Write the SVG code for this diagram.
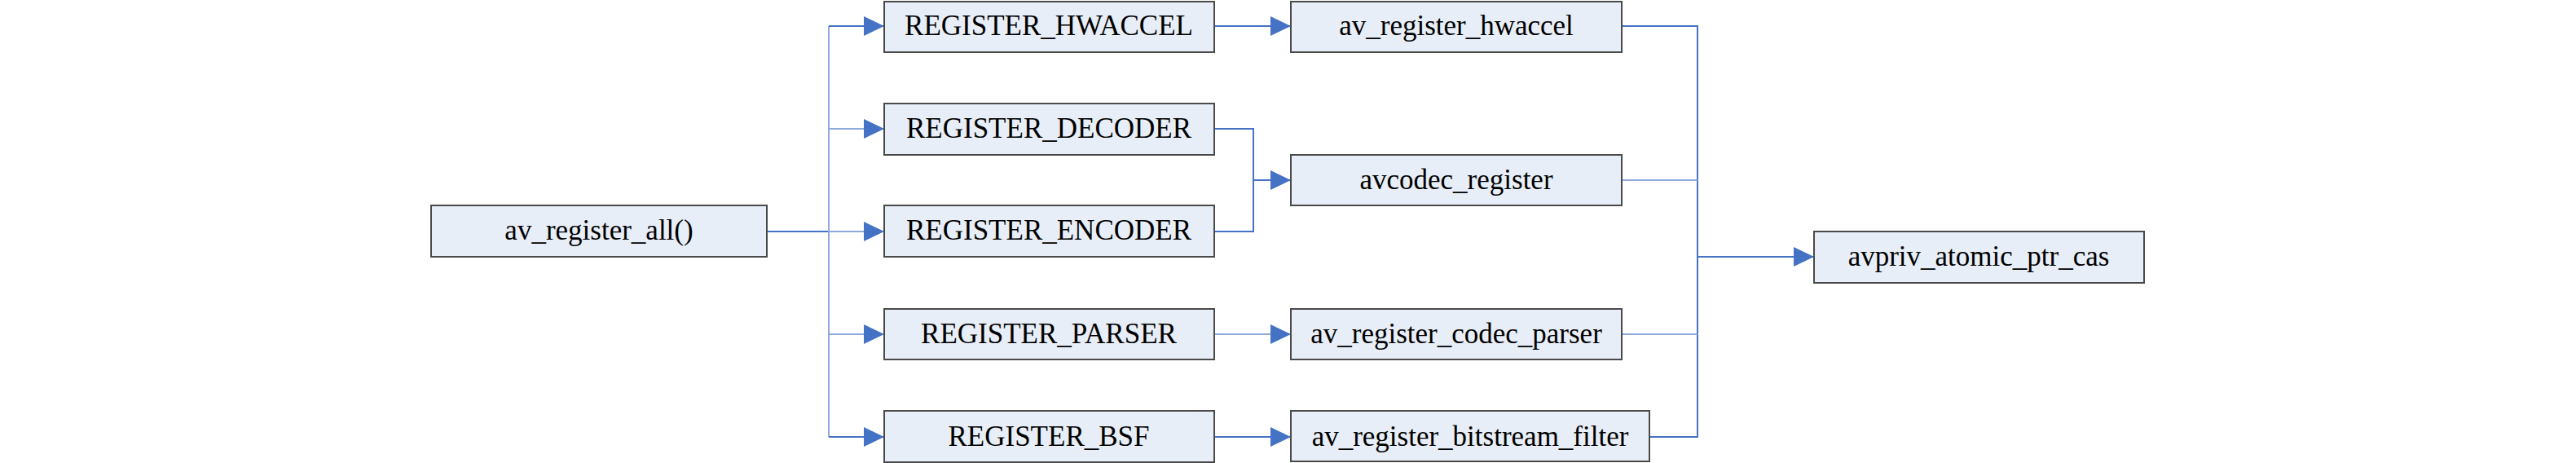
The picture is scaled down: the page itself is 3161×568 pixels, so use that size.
<svg xmlns="http://www.w3.org/2000/svg" width="3161" height="568" viewBox="0 0 3161 568">
<style>
.box{fill:#E8EEF7;stroke:#4a4a4a;stroke-width:2}
.lbl{font-family:"Liberation Serif","Times New Roman",serif;font-size:35px;fill:#000;text-anchor:middle}
.ln{fill:none;stroke:#4472C4;stroke-width:2}
.lt{fill:none;stroke:#8FAADC;stroke-width:2}
</style>
<defs>
<marker id="arr" markerUnits="userSpaceOnUse" markerWidth="25" markerHeight="24" refX="25" refY="12" orient="auto">
<path d="M0,0 L25,12 L0,24 z" fill="#4472C4"/>
</marker>
</defs>
<rect width="3161" height="568" fill="#fff"/>
<g id="connectors">
<path class="ln" d="M941,284 H1017"/>
<path class="lt" d="M1017,32 V536"/>
<path class="ln" d="M1017,32 H1085" marker-end="url(#arr)"/>
<path class="lt" d="M1017,158 H1085" marker-end="url(#arr)"/>
<path class="lt" d="M1017,284 H1085" marker-end="url(#arr)"/>
<path class="lt" d="M1017,410 H1085" marker-end="url(#arr)"/>
<path class="ln" d="M1017,536 H1085" marker-end="url(#arr)"/>
<path class="ln" d="M1490,32 H1584" marker-end="url(#arr)"/>
<path class="ln" d="M1490,158 H1538 V284 H1490"/>
<path class="ln" d="M1538,221 H1584" marker-end="url(#arr)"/>
<path class="lt" d="M1490,410 H1584" marker-end="url(#arr)"/>
<path class="ln" d="M1490,536 H1584" marker-end="url(#arr)"/>
<path class="ln" d="M1990,32 H2083 V536 H2024"/>
<path class="lt" d="M1990,221 H2083"/>
<path class="lt" d="M1990,410 H2083"/>
<path class="ln" d="M2083,315 H2226" marker-end="url(#arr)"/>
</g>
<g id="n_av_register_all"><rect class="box" x="529" y="252" width="412" height="63"/><text class="lbl" x="735" y="294">av_register_all()</text></g>
<g id="n_reg_hwaccel"><rect class="box" x="1085" y="2" width="405" height="62"/><text class="lbl" x="1287" y="43">REGISTER_HWACCEL</text></g>
<g id="n_reg_decoder"><rect class="box" x="1085" y="127" width="405" height="63"/><text class="lbl" x="1287" y="169">REGISTER_DECODER</text></g>
<g id="n_reg_encoder"><rect class="box" x="1085" y="252" width="405" height="63"/><text class="lbl" x="1287" y="294">REGISTER_ENCODER</text></g>
<g id="n_reg_parser"><rect class="box" x="1085" y="379" width="405" height="62"/><text class="lbl" x="1287" y="421">REGISTER_PARSER</text></g>
<g id="n_reg_bsf"><rect class="box" x="1085" y="504" width="405" height="63"/><text class="lbl" x="1287" y="547">REGISTER_BSF</text></g>
<g id="n_av_register_hwaccel"><rect class="box" x="1584" y="2" width="406" height="62"/><text class="lbl" x="1787" y="43">av_register_hwaccel</text></g>
<g id="n_avcodec_register"><rect class="box" x="1584" y="190" width="406" height="62"/><text class="lbl" x="1787" y="232">avcodec_register</text></g>
<g id="n_av_register_codec_parser"><rect class="box" x="1584" y="379" width="406" height="62"/><text class="lbl" x="1787" y="421">av_register_codec_parser</text></g>
<g id="n_av_register_bitstream_filter"><rect class="box" x="1584" y="504" width="440" height="62"/><text class="lbl" x="1804" y="547">av_register_bitstream_filter</text></g>
<g id="n_avpriv_atomic_ptr_cas"><rect class="box" x="2226" y="284" width="405" height="63"/><text class="lbl" x="2428" y="326">avpriv_atomic_ptr_cas</text></g>
</svg>
